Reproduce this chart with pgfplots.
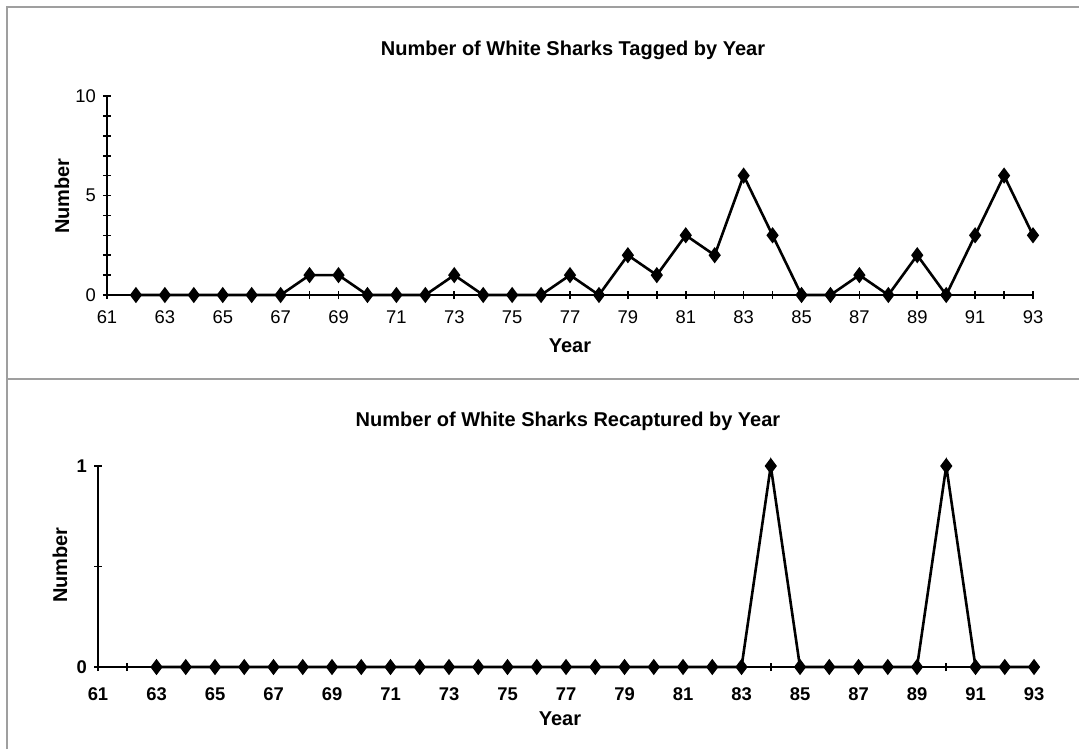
\documentclass[border=0pt]{standalone}
\usepackage{pgfplots}
\pgfplotsset{compat=1.18}
\usepackage{fontspec}
\setmainfont{Liberation Sans}
\begin{document}
\begin{tikzpicture}
\path[use as bounding box] (0,0) rectangle (539.5pt,-374.5pt);
\fill[white] (0,0) rectangle (539.5pt,-374.5pt);
\draw[gray!75, line width=0.6pt] (3.5pt,-374.5pt) -- (3.5pt,-3.5pt) -- (539.5pt,-3.5pt);
\draw[gray!75, line width=0.6pt] (3.5pt,-189.5pt) -- (539.5pt,-189.5pt);
\pgfplotsset{
  sharkstyle/.style={
    scale only axis,
    axis lines=left,
    axis line style={-, line width=1pt},
    xmin=61, xmax=93,
    xtick={61,63,...,93},
    minor xtick={62,64,...,92},
    tick align=center,
    major tick length=4pt,
    minor tick length=4pt,
    every tick/.style={black, line width=0.8pt},
    every minor tick/.style={black, line width=0.8pt},
    clip=false,
    /pgf/number format/assume math mode=true,
    xticklabel style={font=\fontsize{9.2}{10}\selectfont, yshift=-2.5pt},
    yticklabel style={font=\fontsize{9.2}{10}\selectfont},
  }
}
% Top panel
\begin{axis}[sharkstyle,
  at={(53.5pt,-147.5pt)}, anchor=south west,
  width=463pt, height=99.5pt,
  ymin=0, ymax=10,
  ytick={0,5,10},
  minor ytick={1,2,3,4,6,7,8,9},
]
\addplot[black, line width=1.3pt, mark=diamond*, mark size=3pt] coordinates {
(62,0)(63,0)(64,0)(65,0)(66,0)(67,0)(68,1)(69,1)(70,0)(71,0)(72,0)(73,1)
(74,0)(75,0)(76,0)(77,1)(78,0)(79,2)(80,1)(81,3)(82,2)(83,6)(84,3)(85,0)
(86,0)(87,1)(88,0)(89,2)(90,0)(91,3)(92,6)(93,3)};
\end{axis}
% Bottom panel
\begin{axis}[sharkstyle,
  at={(49pt,-333.5pt)}, anchor=south west,
  width=468pt, height=100.5pt,
  ymin=0, ymax=1,
  ytick={0,1},
  minor ytick={0.5},
  xticklabel style={font=\bfseries\fontsize{9.2}{10}\selectfont, yshift=-2.5pt},
  yticklabel style={font=\bfseries\fontsize{9.2}{10}\selectfont},
]
\addplot[black, line width=1.3pt, mark=diamond*, mark size=3pt] coordinates {
(63,0)(64,0)(65,0)(66,0)(67,0)(68,0)(69,0)(70,0)(71,0)(72,0)(73,0)(74,0)
(75,0)(76,0)(77,0)(78,0)(79,0)(80,0)(81,0)(82,0)(83,0)(84,1)(85,0)(86,0)
(87,0)(88,0)(89,0)(90,1)(91,0)(92,0)(93,0)};
\end{axis}
\node[font=\bfseries\fontsize{10}{12}\selectfont] at (286.5pt,-25pt) {Number of White Sharks Tagged by Year};
\node[font=\bfseries\fontsize{10}{12}\selectfont] at (284pt,-210.5pt) {Number of White Sharks Recaptured by Year};
\node[font=\bfseries\fontsize{10}{12}\selectfont] at (285pt,-173pt) {Year};
\node[font=\bfseries\fontsize{10}{12}\selectfont] at (280pt,-359.5pt) {Year};
\node[font=\bfseries\fontsize{10}{12}\selectfont, rotate=90] at (31pt,-98pt) {Number};
\node[font=\bfseries\fontsize{10}{12}\selectfont, rotate=90] at (30pt,-282.5pt) {Number};
\end{tikzpicture}
\end{document}
